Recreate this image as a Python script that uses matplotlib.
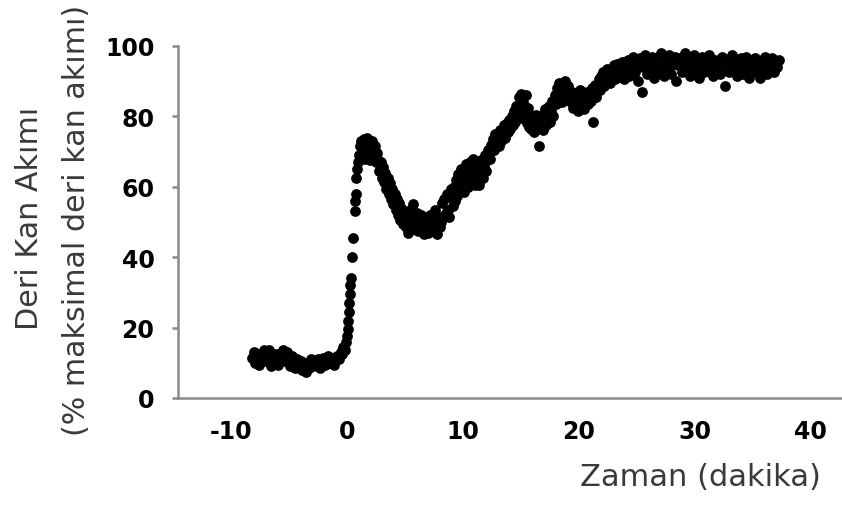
import numpy as np
import matplotlib
matplotlib.use("Agg")
import matplotlib.pyplot as plt

# skin blood flow (% of max) vs time (min)
base_t = [-8.2, -8.05, -7.9, -7.75, -7.6, -7.45, -7.3, -7.15, -7.0, -6.85,
          -6.7, -6.55, -6.4, -6.25, -6.1, -5.95, -5.8, -5.65, -5.5, -5.35,
          -5.2, -5.05, -4.9, -4.75, -4.6, -4.45, -4.3, -4.15, -4.0, -3.85,
          -3.7, -3.55, -3.4, -3.25, -3.1, -2.95, -2.8, -2.65, -2.5, -2.35,
          -2.2, -2.05, -1.9, -1.75, -1.6, -1.45, -1.3, -1.15, -1.0, -0.85,
          -0.7, -0.55, -0.4, -0.3, -0.2, -0.1]
base_y = [11.5, 13.0, 10.0, 12.0, 9.5, 12.5, 11.0, 13.5, 10.5, 12.0,
          13.5, 9.0, 11.5, 10.0, 12.5, 9.5, 11.0, 12.5, 13.5, 10.5,
          13.0, 11.5, 9.0, 12.0, 10.0, 8.5, 11.0, 9.5, 10.5, 8.0,
          9.5, 7.5, 10.0, 8.5, 11.0, 9.0, 10.5, 9.5, 11.0, 8.5,
          10.0, 11.5, 9.5, 10.5, 12.0, 10.0, 11.5, 9.5, 11.0, 12.0,
          11.0, 13.0, 12.5, 14.5, 13.5, 16.0]

rise_t = [0.0, 0.05, 0.1, 0.15, 0.2, 0.25, 0.3, 0.35, 0.45, 0.55,
          0.65, 0.7, 0.75, 0.8, 0.85, 0.95, 1.05, 1.15, 1.25]
rise_y = [17.5, 19.5, 22.0, 24.5, 27.0, 29.5, 32.0, 34.0, 40.0, 45.5,
          53.0, 56.0, 58.0, 62.5, 65.0, 67.0, 69.0, 71.5, 73.0]

peak_t = [1.35, 1.45, 1.55, 1.6, 1.7, 1.8, 1.9, 2.0, 2.1, 2.2, 2.3, 2.4,
          2.5, 2.6, 2.7, 2.8, 2.9, 3.0, 3.1, 3.2, 3.3, 3.4, 3.5, 3.6, 3.7,
          3.8, 3.9, 4.0, 4.1, 4.2, 4.3, 4.4, 4.5, 4.6, 4.7, 4.8, 4.9, 5.0]
peak_y = [70.0, 73.5, 68.0, 72.0, 74.0, 70.5, 73.0, 67.5, 71.0, 73.0, 69.0, 71.5,
          67.0, 69.5, 67.5, 64.5, 67.0, 62.5, 65.5, 61.5, 64.0, 59.5, 62.5, 58.0, 61.0,
          56.5, 59.5, 55.0, 58.0, 53.5, 56.5, 52.0, 55.5, 50.5, 54.0, 49.5, 53.0, 50.0]

dip_t = [5.1, 5.2, 5.3, 5.4, 5.5, 5.6, 5.7, 5.8, 5.9, 6.0, 6.1, 6.2, 6.3,
         6.4, 6.5, 6.6, 6.7, 6.8, 6.9, 7.0, 7.1, 7.2, 7.3, 7.4, 7.5, 7.6,
         7.7, 7.8, 7.9, 8.0]
dip_y = [48.5, 51.0, 47.0, 53.5, 49.5, 51.5, 55.0, 48.0, 50.5, 52.5, 47.5, 50.0, 48.5,
         52.0, 49.0, 46.5, 51.0, 48.0, 50.5, 47.0, 49.5, 52.0, 48.5, 50.5, 47.5, 53.5,
         49.5, 46.5, 51.5, 48.5]

rec_t = [8.1, 8.2, 8.3, 8.4, 8.5, 8.6, 8.7, 8.8, 8.9, 9.0, 9.1, 9.2, 9.3,
         9.4, 9.5, 9.6, 9.7, 9.8, 9.9, 10.0, 10.1, 10.2, 10.3, 10.4, 10.5,
         10.6, 10.7, 10.8, 10.9, 11.0, 11.1, 11.2, 11.3, 11.4, 11.5, 11.6,
         11.7, 11.8, 11.9, 12.0, 12.1, 12.2, 12.3, 12.4, 12.5, 12.6, 12.7,
         12.8, 12.9, 13.0, 13.1, 13.2, 13.3, 13.4, 13.5, 13.6, 13.7, 13.8]
rec_y = [50.0, 55.5, 51.5, 56.5, 52.5, 58.0, 53.5, 51.5, 57.0, 59.5, 54.5, 60.0, 56.0,
         62.0, 57.5, 63.5, 59.0, 65.0, 60.5, 64.5, 58.5, 62.5, 66.5, 60.0, 64.0,
         67.0, 61.5, 65.0, 68.0, 60.5, 65.5, 63.0, 66.5, 60.5, 64.5, 67.5,
         62.5, 66.0, 69.0, 64.5, 67.5, 70.5, 68.0, 72.0, 71.0, 73.5, 70.5,
         75.0, 72.5, 74.5, 71.5, 76.0, 73.0, 75.5, 77.5, 74.0, 76.5, 78.0]

climb_t = [13.9, 14.0, 14.1, 14.2, 14.3, 14.4, 14.5, 14.6, 14.7, 14.8, 14.9,
           15.0, 15.1, 15.2, 15.3, 15.4, 15.5, 15.6, 15.7, 15.8, 15.9, 16.0,
           16.1, 16.2, 16.3, 16.4, 16.5, 16.6, 16.7, 16.8, 16.9, 17.0, 17.1,
           17.2, 17.3, 17.4, 17.5, 17.6, 17.7, 17.8, 17.9, 18.0, 18.1, 18.2,
           18.3, 18.4, 18.5, 18.6, 18.7, 18.8, 18.9, 19.0, 19.1, 19.2, 19.3,
           19.4, 19.5, 19.6, 19.7, 19.8, 19.9, 20.0, 20.1, 20.2, 20.3, 20.4,
           20.5, 20.6, 20.7, 20.8, 20.9, 21.0, 21.1, 21.2, 21.3, 21.4, 21.5,
           21.6, 21.7, 21.8, 21.9, 22.0, 22.1, 22.2, 22.3, 22.4, 22.5, 22.6,
           22.7, 22.8, 22.9, 23.0, 23.1, 23.2, 23.3, 23.4, 23.5]
climb_y = [75.5, 79.0, 76.5, 80.0, 77.5, 81.5, 78.5, 83.0, 80.0, 85.5, 82.0,
           86.5, 79.5, 84.0, 81.0, 86.0, 78.0, 82.5, 77.0, 80.5, 76.5, 79.0,
           75.5, 78.0, 80.5, 76.5, 79.0, 71.5, 77.5, 80.5, 76.0, 79.0, 82.0,
           77.5, 80.0, 83.0, 78.5, 81.5, 84.5, 80.0, 86.0, 83.5, 88.0, 85.0,
           89.5, 86.5, 84.0, 88.5, 86.0, 90.0, 87.0, 85.0, 88.5, 86.5, 84.0,
           87.0, 82.5, 85.5, 83.0, 86.5, 81.5, 84.5, 87.5, 83.0, 85.5, 82.0,
           86.0, 84.0, 87.0, 83.5, 86.5, 84.5, 88.0, 78.5, 86.0, 89.0, 85.5,
           88.5, 90.5, 87.5, 91.5, 89.0, 92.5, 88.5, 91.0, 93.5, 90.0, 92.0,
           89.5, 93.0, 91.0, 94.5, 90.5, 92.5, 95.0, 91.5, 93.5]

plat_t = [23.6, 23.75, 23.9, 24.05, 24.2, 24.35, 24.5, 24.65, 24.8, 24.95,
          25.1, 25.25, 25.4, 25.55, 25.7, 25.85, 26.0, 26.15, 26.3, 26.45,
          26.6, 26.75, 26.9, 27.05, 27.2, 27.35, 27.5, 27.65, 27.8, 27.95,
          28.1, 28.25, 28.4, 28.55, 28.7, 28.85, 29.0, 29.15, 29.3, 29.45,
          29.6, 29.75, 29.9, 30.05, 30.2, 30.35, 30.5, 30.65, 30.8, 30.95,
          31.1, 31.25, 31.4, 31.55, 31.7, 31.85, 32.0, 32.15, 32.3, 32.45,
          32.6, 32.75, 32.9, 33.05, 33.2, 33.35, 33.5, 33.65, 33.8, 33.95,
          34.1, 34.25, 34.4, 34.55, 34.7, 34.85, 35.0, 35.15, 35.3, 35.45,
          35.6, 35.75, 35.9, 36.05, 36.2, 36.35, 36.5, 36.65, 36.8, 36.95,
          37.1, 37.25]
plat_y = [92.0, 95.5, 90.5, 94.0, 96.0, 91.5, 93.5, 97.0, 92.5, 95.0,
          90.0, 96.5, 87.0, 94.0, 97.5, 92.0, 95.5, 93.0, 97.0, 91.0,
          94.5, 96.5, 92.5, 98.0, 94.0, 91.5, 96.0, 93.5, 97.5, 92.0,
          95.0, 97.0, 90.0, 94.5, 96.5, 92.5, 95.5, 98.0, 93.0, 96.0,
          91.5, 94.5, 97.5, 93.5, 96.0, 91.0, 95.0, 97.0, 92.5, 95.5,
          93.0, 97.5, 94.0, 91.5, 96.0, 93.5, 95.5, 92.0, 97.0, 94.5,
          88.5, 96.0, 92.5, 95.0, 97.5, 93.0, 95.5, 91.5, 94.0, 96.5,
          92.0, 95.0, 97.0, 93.5, 91.0, 95.5, 93.0, 96.5, 92.5, 94.5,
          91.0, 96.0, 93.5, 97.0, 92.0, 95.0, 93.0, 96.5, 92.5, 95.5,
          94.0, 96.0]

x_ticks = [-10, 0, 10, 20, 30, 40]
y_ticks = [0, 20, 40, 60, 80, 100]

t = np.concatenate([base_t, rise_t, peak_t, dip_t, rec_t, climb_t, plat_t])
y = np.concatenate([base_y, rise_y, peak_y, dip_y, rec_y, climb_y, plat_y])

W, H = 842, 506
fig = plt.figure(figsize=(W / 100, H / 100), dpi=100)
ax = fig.add_axes([178 / W, 1 - 399 / H, 663 / W, 352 / H])

ax.scatter(t, y, s=60, c="black", linewidths=0, clip_on=False, zorder=3)

ax.set_xlim(-14.57, 42.6)
ax.set_ylim(0, 100)
ax.set_xticks(x_ticks)
ax.set_xticklabels([str(v) for v in x_ticks])
ax.set_yticks(y_ticks)

spine_col = "#8a8a8a"
for s in ("top", "right"):
    ax.spines[s].set_visible(False)
for s in ("left", "bottom"):
    ax.spines[s].set_color(spine_col)
    ax.spines[s].set_linewidth(1.8)
ax.tick_params(axis="y", length=4, width=1.8, color=spine_col, pad=13,
               labelsize=17)
ax.tick_params(axis="x", length=0, pad=15, labelsize=17)
for lab in ax.get_xticklabels() + ax.get_yticklabels():
    lab.set_fontweight("bold")
    lab.set_color("black")

lab_col = "#3a3a3a"
fig.text(29.5 / W, 1 - 218 / H, "Deri Kan Akımı", rotation=90,
         ha="center", va="center", fontsize=21.7, color=lab_col)
fig.text(77 / W, 1 - 220 / H, "(% maksimal deri kan akımı)", rotation=90,
         ha="center", va="center", fontsize=21.7, color=lab_col)
fig.text(700 / W, 1 - 478 / H, "Zaman (dakika)", ha="center", va="center",
         fontsize=22, color=lab_col)

fig.savefig("out.png", dpi=100)
